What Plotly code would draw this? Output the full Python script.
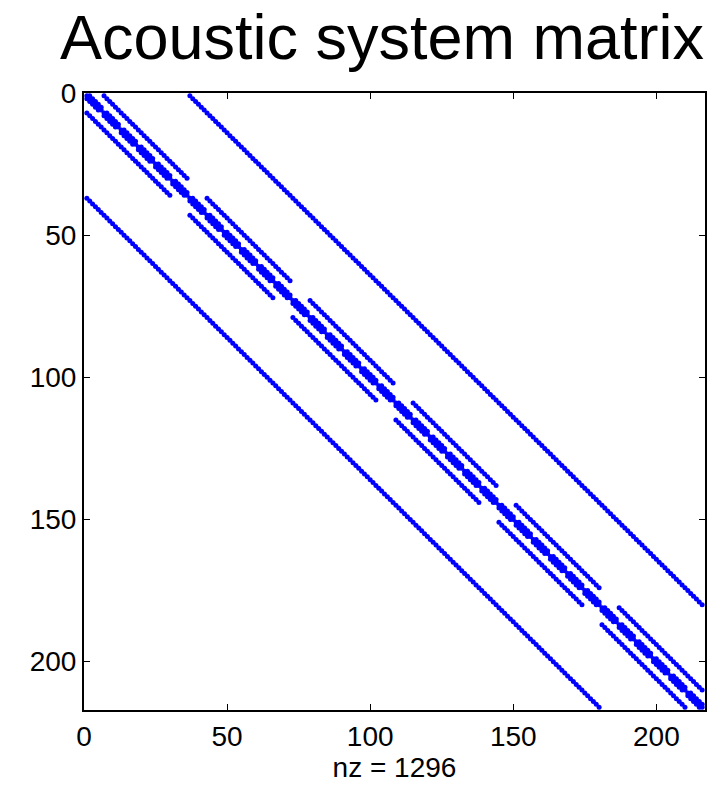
import numpy as np
import plotly.graph_objects as go

# Sparse acoustic system matrix: 7-point stencil on a 6x6x6 grid (216 unknowns)
grid_size = 6
stencil_dirs = [(0, 0, 0), (1, 0, 0), (-1, 0, 0), (0, 1, 0), (0, -1, 0), (0, 0, 1), (0, 0, -1)]
x_ticks = [0, 50, 100, 150, 200]
y_ticks = [0, 50, 100, 150, 200]
title_text = "Acoustic system matrix"

n = grid_size
N = n ** 3
rows, cols = [], []
for k in range(n):
    for j in range(n):
        for i in range(n):
            r = i + n * j + n * n * k
            for di, dj, dk in stencil_dirs:
                ii, jj, kk = i + di, j + dj, k + dk
                if 0 <= ii < n and 0 <= jj < n and 0 <= kk < n:
                    c = ii + n * jj + n * n * kk
                    rows.append(r + 1)
                    cols.append(c + 1)
nz = len(rows)

fig = go.Figure()
fig.add_trace(go.Scatter(
    x=cols, y=rows, mode="markers",
    marker=dict(color="rgb(0,0,255)", size=5, line=dict(width=0)),
    showlegend=False, hoverinfo="skip",
))

axis_common = dict(
    showgrid=False, zeroline=False, showline=True, linecolor="black", linewidth=2,
    mirror="ticks", ticks="inside", ticklen=6, tickwidth=1.3, tickcolor="black",
    tickfont=dict(family="Liberation Sans, Arial, sans-serif", size=28, color="black"),
)
fig.update_layout(
    width=723, height=789,
    margin=dict(l=84, r=18, t=93, b=77),
    paper_bgcolor="white", plot_bgcolor="white",
    title=dict(text=title_text, x=382 / 723, xanchor="center", xref="container",
               y=1 - 15 / 789, yanchor="top", yref="container",
               font=dict(family="Liberation Sans, Arial, sans-serif", size=63, color="black")),
    xaxis=dict(range=[0, N + 1], tickvals=x_ticks, **axis_common,
               title=dict(text=f"nz = {nz}", standoff=6,
                          font=dict(family="Liberation Sans, Arial, sans-serif", size=28, color="black"))),
    yaxis=dict(range=[N + 1, 0], tickvals=y_ticks, **axis_common),
)
fig.write_html("out.html")
